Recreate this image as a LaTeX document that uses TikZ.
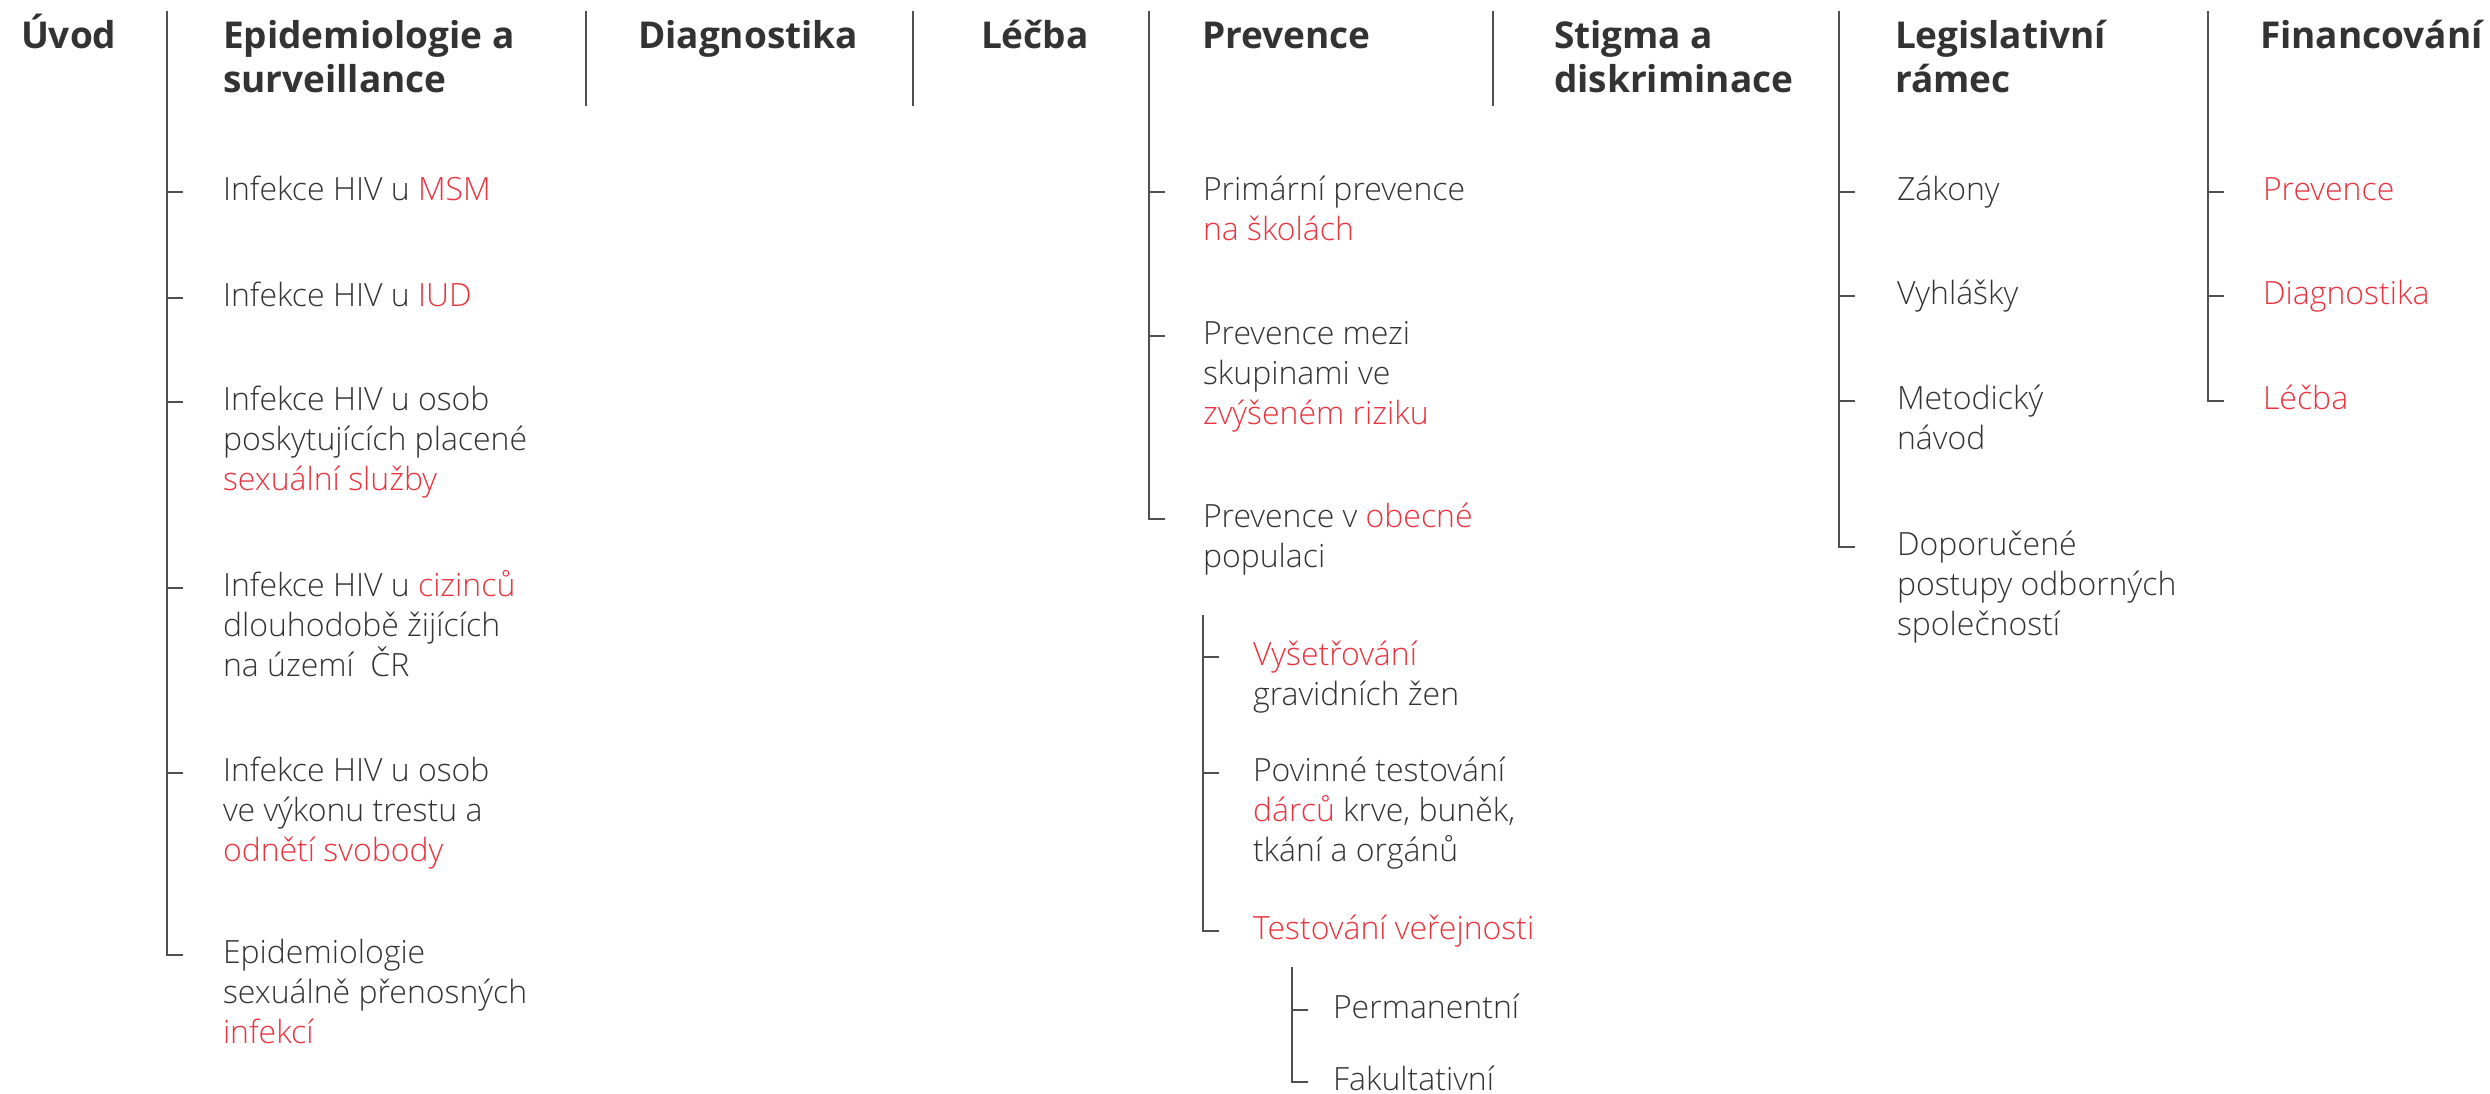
\documentclass[tikz,border=0pt]{standalone}
\usepackage{fontspec}
\setmainfont{Open Sans}
\newfontfamily\headf{Open Sans}
\newfontfamily\bodyf{Open Sans Light}
\usetikzlibrary{calc}
\definecolor{txt}{HTML}{333333}
\definecolor{hl}{HTML}{E8343F}
\definecolor{ln}{HTML}{505050}
\newcommand{\hi}[1]{\textcolor{hl}{#1}}
\newcommand{\itxt}[1]{\parbox[t]{20cm}{\raggedright #1}}
\tikzset{
  head/.style={anchor=base west, inner sep=0pt, outer sep=0pt, text=txt,
    font=\headf\bfseries\fontsize{37}{44}\selectfont},
  body/.style={anchor=base west, inner sep=0pt, outer sep=0pt, text=txt,
    font=\bodyf\fontsize{32}{40}\selectfont},
  tree/.style={draw=ln, line width=2pt},
}
\begin{document}
\begin{tikzpicture}[x=1pt, y=-1pt]
\useasboundingbox (0,0) rectangle (2490,1093);
% headings
\node[head] (h1) at (21,48) {\itxt{Úvod}};
\node[head] (h2) at (223,48) {\itxt{Epidemiologie a\\surveillance}};
\node[head] (h3) at (638,48) {\itxt{Diagnostika}};
\node[head] (h4) at (981,48) {\itxt{Léčba}};
\node[head] (h5) at (1202,48) {\itxt{Prevence}};
\node[head] (h6) at (1554,48) {\itxt{Stigma a\\diskriminace}};
\node[head] (h7) at (1895,48) {\itxt{Legislativní\\rámec}};
\node[head] (h8) at (2260,48) {\itxt{Financování}};
% divider tops
\coordinate (d1) at (167,11);
\coordinate (d2) at (586,11);  \coordinate (d2b) at (586,106);
\coordinate (d3) at (913,11);  \coordinate (d3b) at (913,106);
\coordinate (d4) at (1149,11);
\coordinate (d5) at (1493,11); \coordinate (d5b) at (1493,106);
\coordinate (d6) at (1839,11);
\coordinate (d7) at (2208,11);
\draw[tree] (d2) -- (d2b);
\draw[tree] (d3) -- (d3b);
\draw[tree] (d5) -- (d5b);
% Epidemiologie items
\node[body] (e1) at (223,200) {\itxt{Infekce HIV u \hi{MSM}}};
\node[body] (e2) at (223,306) {\itxt{Infekce HIV u \hi{IUD}}};
\node[body] (e3) at (223,410) {\itxt{Infekce HIV u osob\\poskytujících placené\\\hi{sexuální služby}}};
\node[body] (e4) at (223,596) {\itxt{Infekce HIV u \hi{cizinců}\\dlouhodobě žijících\\na území\ \ ČR}};
\node[body] (e5) at (223,781) {\itxt{Infekce HIV u osob\\ve výkonu trestu a\\\hi{odnětí svobody}}};
\node[body] (e6) at (223,963) {\itxt{Epidemiologie\\sexuálně přenosných\\\hi{infekcí}}};
% Prevence items
\node[body] (p1) at (1203,200) {\itxt{Primární prevence\\\hi{na školách}}};
\node[body] (p2) at (1203,344) {\itxt{Prevence mezi\\skupinami ve\\\hi{zvýšeném riziku}}};
\node[body] (p3) at (1203,527) {\itxt{Prevence v \hi{obecné}\\populaci}};
\coordinate (sp) at (1203,615);
\node[body] (s1) at (1253,665) {\itxt{\hi{Vyšetřování}\\gravidních žen}};
\node[body] (s2) at (1253,781) {\itxt{Povinné testování\\\hi{dárců} krve, buněk,\\tkání a orgánů}};
\node[body] (s3) at (1253,939) {\itxt{\hi{Testování veřejnosti}}};
\coordinate (tp) at (1292,967);
\node[body] (t1) at (1333,1018) {\itxt{Permanentní}};
\node[body] (t2) at (1333,1090) {\itxt{Fakultativní}};
% Legislativni items
\node[body] (l1) at (1897,200) {\itxt{Zákony}};
\node[body] (l2) at (1897,304) {\itxt{Vyhlášky}};
\node[body] (l3) at (1897,409) {\itxt{Metodický\\návod}};
\node[body] (l4) at (1897,555) {\itxt{Doporučené\\postupy odborných\\společností}};
% Financovani items
\node[body] (f1) at (2263,200) {\itxt{\hi{Prevence}}};
\node[body] (f2) at (2263,304) {\itxt{\hi{Diagnostika}}};
\node[body] (f3) at (2263,409) {\itxt{\hi{Léčba}}};
% tick coordinates
\foreach \n in {e1,e2,e3,e4,e5,e6,p1,p2,p3,s1,s2,s3,t1,t2,l1,l2,l3,l4,f1,f2,f3}
  \coordinate (k\n) at ($(\n.base west)+(0,-8)$);
% trees
\foreach \n in {e1,e2,e3,e4,e5} \draw[tree] (d1 |- k\n) -- ++(16,0);
\draw[tree] (d1) -- (d1 |- ke6) -- ++(16,0);
\foreach \n in {p1,p2} \draw[tree] (d4 |- k\n) -- ++(16,0);
\draw[tree] (d4) -- (d4 |- kp3) -- ++(16,0);
\foreach \n in {s1,s2} \draw[tree] (sp |- k\n) -- ++(16,0);
\draw[tree] (sp) -- (sp |- ks3) -- ++(16,0);
\draw[tree] (tp |- kt1) -- ++(16,0);
\draw[tree] (tp) -- (tp |- kt2) -- ++(16,0);
\foreach \n in {l1,l2,l3} \draw[tree] (d6 |- k\n) -- ++(16,0);
\draw[tree] (d6) -- (d6 |- kl4) -- ++(16,0);
\foreach \n in {f1,f2} \draw[tree] (d7 |- k\n) -- ++(16,0);
\draw[tree] (d7) -- (d7 |- kf3) -- ++(16,0);
\end{tikzpicture}
\end{document}
